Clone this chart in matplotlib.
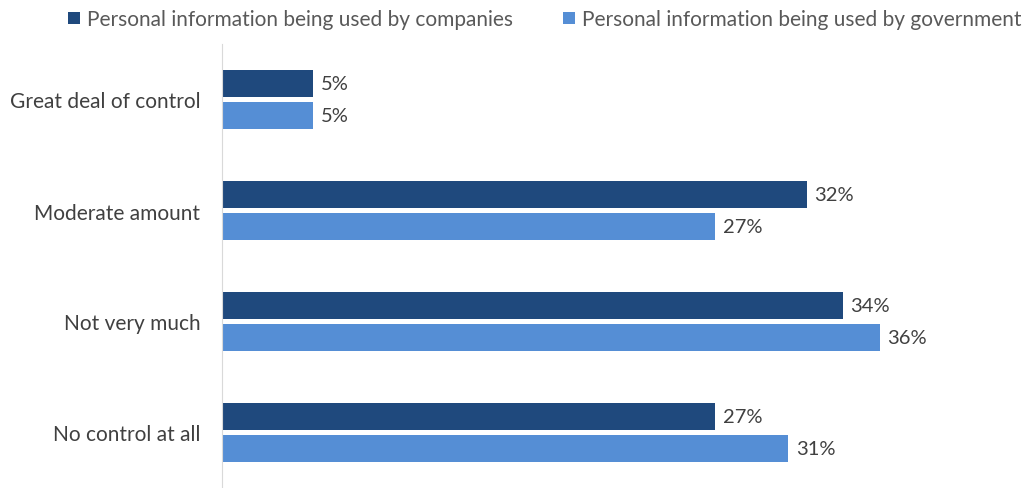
import numpy as np
import matplotlib.pyplot as plt

plt.rcParams['font.family'] = ['Lato', 'DejaVu Sans']

categories = ["Great deal of control", "Moderate amount", "Not very much", "No control at all"]
companies = [5, 32, 34, 27]
government = [5, 27, 36, 31]
series_names = ["Personal information being used by companies",
                "Personal information being used by government"]

dark_blue = "#1F497D"
light_blue = "#558ED5"
label_color = "#404040"

fig = plt.figure(figsize=(10.32, 4.89), dpi=100)
ax = fig.add_axes([222 / 1032, 0, 800 / 1032, 444 / 489])

y = np.arange(len(categories))
h = 0.25
off = 0.145

b1 = ax.barh(y - off, companies, height=h, color=dark_blue, label=series_names[0])
b2 = ax.barh(y + off, government, height=h, color=light_blue, label=series_names[1])

for bars, vals in ((b1, companies), (b2, government)):
    for bar, v in zip(bars, vals):
        ax.text(bar.get_width() + 0.4, bar.get_y() + bar.get_height() / 2, f"{v}%",
                va="center", ha="left", fontsize=14.5, color=label_color)

ax.set_xlim(0, 800 / 18.27)
ax.set_ylim(3.5, -0.5)
ax.set_yticks(y)
ax.set_yticklabels(categories, fontsize=15, color=label_color)
ax.tick_params(axis="y", length=0, pad=15.5)
ax.set_xticks([])
for side in ("top", "right", "bottom"):
    ax.spines[side].set_visible(False)
ax.spines["left"].set_color("#D9D9D9")

fig.legend(handles=[b1, b2], loc="upper left", bbox_to_anchor=(58 / 1032, 1.0), ncol=2,
           frameon=False, fontsize=15, handlelength=0.55, handleheight=0.55,
           handletextpad=0.35, columnspacing=2.4, labelcolor="#595959",
           borderaxespad=0.1)

fig.savefig("out.png", dpi=100)
